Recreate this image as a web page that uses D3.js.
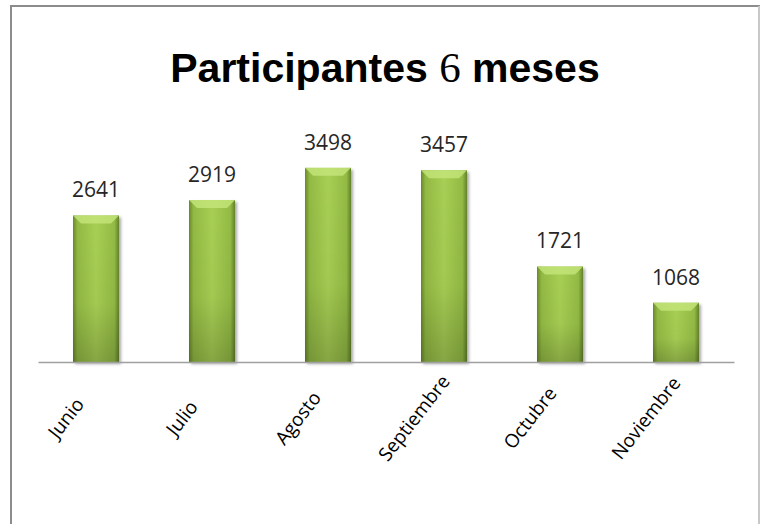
<!DOCTYPE html>
<html>
<head>
<meta charset="utf-8">
<script src="https://cdn.jsdelivr.net/npm/d3@7"></script>
<style>
  body { margin: 0; background: #fff; }
</style>
</head>
<body>
<div id="chart"></div>
<script>
// months and number of participants
var months = ["Junio", "Julio", "Agosto", "Septiembre", "Octubre", "Noviembre"];
var participants = [2641, 2919, 3498, 3457, 1721, 1068];

var W = 760, H = 524;
var baseY = 362, topY = 140;

var svg = d3.select("#chart")
  .append("svg")
    .attr("width", W)
    .attr("height", H);

var defs = svg.append("defs");

// horizontal shading of the bars
var gH = defs.append("linearGradient").attr("id", "barH")
  .attr("x1", "0").attr("x2", "1").attr("y1", "0").attr("y2", "0");
[["0%", "#6a8a28"], ["10%", "#92ba43"], ["50%", "#a8cf54"], ["90%", "#93bb44"], ["100%", "#63822a"]]
  .forEach(function(s) { gH.append("stop").attr("offset", s[0]).attr("stop-color", s[1]); });

// darker towards the bottom
var gV = defs.append("linearGradient").attr("id", "barV")
  .attr("x1", "0").attr("x2", "0").attr("y1", "0").attr("y2", "1");
gV.append("stop").attr("offset", "0%").attr("stop-color", "#000").attr("stop-opacity", 0);
gV.append("stop").attr("offset", "60%").attr("stop-color", "#000").attr("stop-opacity", 0.03);
gV.append("stop").attr("offset", "100%").attr("stop-color", "#000").attr("stop-opacity", 0.2);

var shadow = defs.append("filter").attr("id", "shadow")
  .attr("x", "-20%").attr("y", "-10%").attr("width", "150%").attr("height", "130%");
shadow.append("feGaussianBlur").attr("in", "SourceAlpha").attr("stdDeviation", 1.6);
shadow.append("feOffset").attr("dx", 2).attr("dy", 2).attr("result", "b");
shadow.append("feComponentTransfer").append("feFuncA").attr("type", "linear").attr("slope", 0.35);
var fm = shadow.append("feMerge");
fm.append("feMergeNode");
fm.append("feMergeNode").attr("in", "SourceGraphic");

// chart frame
svg.append("rect")
  .attr("x", 11).attr("y", 6)
  .attr("width", 760).attr("height", 540)
  .attr("fill", "#fff")
  .attr("stroke", "#8c8c8c")
  .attr("stroke-width", 2);
svg.append("line")
  .attr("x1", 759).attr("x2", 759).attr("y1", 6).attr("y2", H)
  .attr("stroke", "#c8c8c8").attr("stroke-width", 2);

// title
var title = svg.append("text")
  .attr("x", 385).attr("y", 82)
  .attr("text-anchor", "middle")
  .attr("font-family", "Arial, 'Liberation Sans', sans-serif")
  .attr("font-weight", "bold")
  .attr("font-size", 41)
  .attr("fill", "#000");
title.append("tspan").text("Participantes ");
title.append("tspan").attr("font-family", "'Times New Roman', 'Liberation Serif', serif").attr("font-weight", "normal").attr("font-size", 43).text("6");
title.append("tspan").text(" meses");

var data = months.map(function(m, i) { return {month: m, value: participants[i]}; });

var x = d3.scaleBand()
  .domain(months)
  .range([38, 734])
  .padding(0);

var y = d3.scaleLinear()
  .domain([0, 4000])
  .range([baseY, topY]);

var barW = 46;

var bars = svg.selectAll("g.bar")
  .data(data)
  .enter().append("g")
    .attr("class", "bar");

bars.append("rect")
  .attr("x", function(d) { return x(d.month) + (x.bandwidth() - barW) / 2; })
  .attr("y", function(d) { return y(d.value); })
  .attr("width", barW)
  .attr("height", function(d) { return baseY - y(d.value); })
  .attr("fill", "url(#barH)")
  .attr("filter", "url(#shadow)");

bars.append("rect")
  .attr("x", function(d) { return x(d.month) + (x.bandwidth() - barW) / 2; })
  .attr("y", function(d) { return y(d.value); })
  .attr("width", barW)
  .attr("height", function(d) { return baseY - y(d.value); })
  .attr("fill", "url(#barV)");

// bevel at the top of each bar
bars.append("path")
  .attr("d", function(d) {
    var x0 = x(d.month) + (x.bandwidth() - barW) / 2, y0 = y(d.value), b = 8;
    return "M" + x0 + "," + y0 + "L" + (x0 + barW) + "," + y0 +
           "L" + (x0 + barW - b) + "," + (y0 + b) + "L" + (x0 + b) + "," + (y0 + b) + "Z";
  })
  .attr("fill", "#c6e67c")
  .attr("opacity", 0.8);

// value labels
bars.append("text")
  .attr("x", function(d) { return x(d.month) + x.bandwidth() / 2; })
  .attr("y", function(d) { return y(d.value) - 18; })
  .attr("text-anchor", "middle")
  .attr("font-family", "'Open Sans', sans-serif")
  .attr("font-size", 21)
  .attr("fill", "#262626")
  .text(function(d) { return d.value; });

// x axis
var xAxis = svg.append("g")
  .attr("transform", "translate(0," + baseY + ")")
  .call(d3.axisBottom(x).tickSize(0).tickPadding(0));
xAxis.select(".domain").attr("stroke", "#a0a0a0").attr("stroke-width", 1.5);
xAxis.selectAll("text")
  .attr("font-family", "'Open Sans', sans-serif")
  .attr("font-size", 19)
  .attr("fill", "#000")
  .attr("text-anchor", "middle")
  .attr("dy", "0.35em")
  .attr("transform", "translate(-30,56) rotate(-52)");
</script>
</body>
</html>
